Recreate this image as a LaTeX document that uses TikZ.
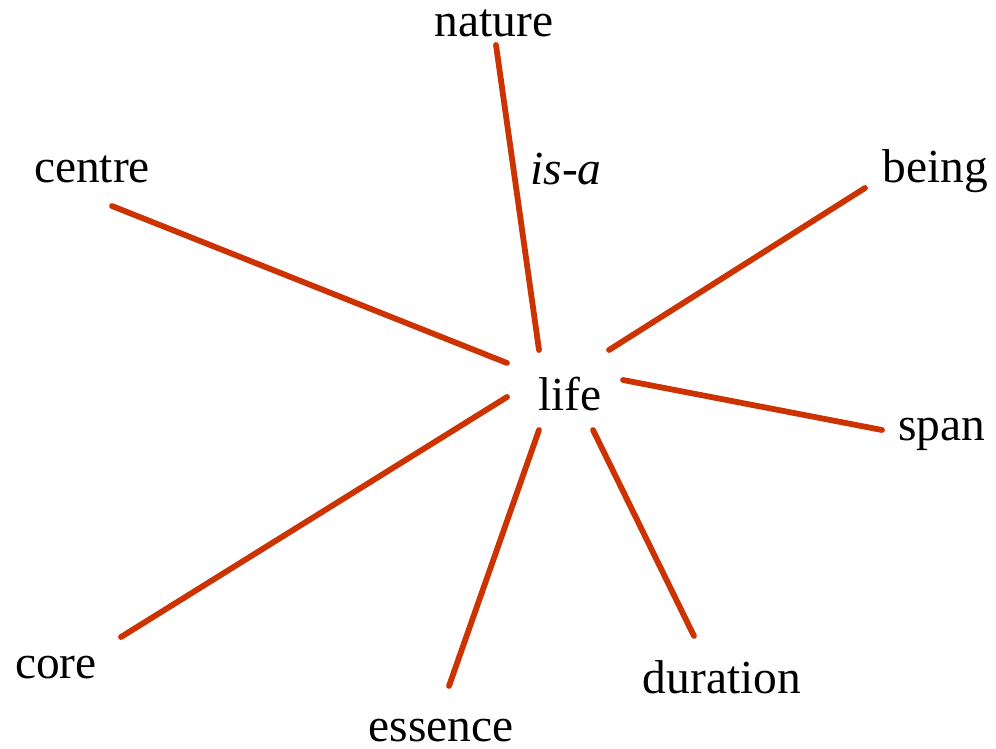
\documentclass[tikz,border=0pt]{standalone}
\usepackage{fontspec}
\setmainfont{Liberation Serif}
\usepackage{xcolor}
\usepackage{tikz}
\usetikzlibrary{positioning}
\definecolor{relred}{HTML}{CC3300}

\begin{document}
\begin{tikzpicture}[x=0.02cm,y=-0.02cm]
            \useasboundingbox (0,0) rectangle (996,749);
            \tikzset{word/.style={anchor=base, inner sep=0pt, font=\fontsize{27}{31}\selectfont},
                     rel/.style={relred, line width=3.3pt, line cap=round}}
            % words
            \node[word] (life) at (570,410) {life};
            \node[word] (nature) at (494,37) {nature};
            \node[word] (centre) at (92,183) {centre};
            \node[word] (being) at (935,183) {being};
            \node[word] (span) at (942,440) {span};
            \node[word] (core) at (56,678) {core};
            \node[word] (essence) at (441,741) {essence};
            \node[word] (duration) at (722,693) {duration};
            \node[word, font=\fontsize{27}{31}\selectfont\itshape] (isa) at (566,185) {is-a};
            % line ends
            \coordinate (l-nature) at (539,350);
            \coordinate (l-centre) at (507,363);
            \coordinate (l-being) at (609,350);
            \coordinate (l-span) at (623,380);
            \coordinate (l-core) at (507,397);
            \coordinate (l-essence) at (539,430);
            \coordinate (l-duration) at (593,430);
            \coordinate (e-nature) at (496,45);
            \coordinate (e-centre) at (112,206);
            \coordinate (e-being) at (865,188);
            \coordinate (e-span) at (882,430);
            \coordinate (e-core) at (121,637);
            \coordinate (e-essence) at (449,686);
            \coordinate (e-duration) at (694,636);
            % relations
            \draw[rel] (l-nature) -- (e-nature);
            \draw[rel] (l-centre) -- (e-centre);
            \draw[rel] (l-being) -- (e-being);
            \draw[rel] (l-span) -- (e-span);
            \draw[rel] (l-core) -- (e-core);
            \draw[rel] (l-essence) -- (e-essence);
            \draw[rel] (l-duration) -- (e-duration);
        \end{tikzpicture}
\end{document}
